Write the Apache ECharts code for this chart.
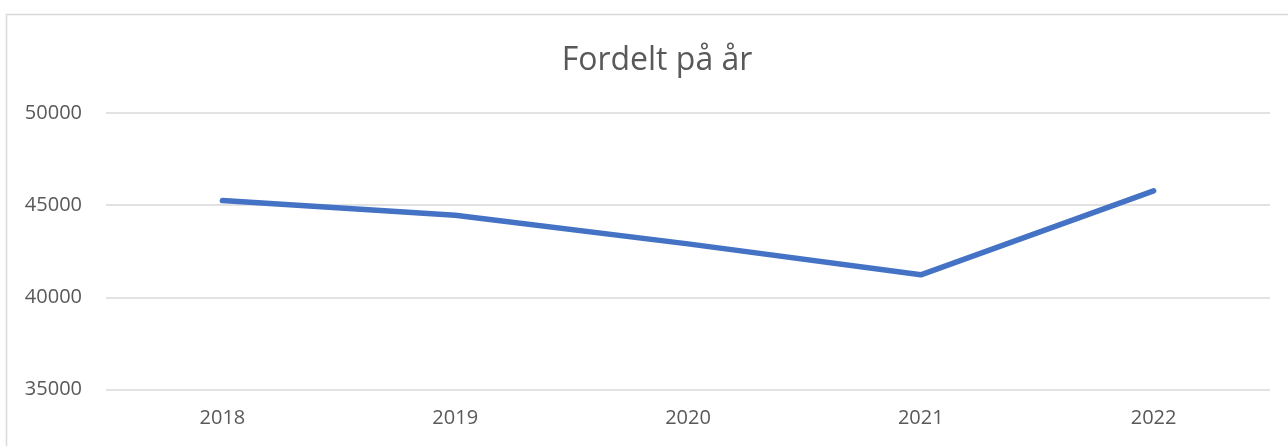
<!DOCTYPE html>
<html>
<head>
<meta charset="utf-8">
<script src="https://cdn.jsdelivr.net/npm/echarts@6/dist/echarts.min.js"></script>
<style>
html,body{margin:0;padding:0;background:#fff;}
#c{width:1288px;height:446px;}
</style>
</head>
<body>
<div id="c"></div>
<script>
const titleText = 'Fordelt på år';
const categories = ['2018', '2019', '2020', '2021', '2022'];
const values = [45250, 44450, 42900, 41220, 45780];
const yTicks = [35000, 40000, 45000, 50000];

const chart = echarts.init(document.getElementById('c'), null, {renderer: 'canvas'});
const textColor = '#595959';
const fontFam = '"Open Sans", "Noto Sans", sans-serif';
chart.setOption({
  backgroundColor: '#ffffff',
  animation: false,
  title: {
    text: titleText,
    left: 652,
    textAlign: 'center',
    top: 40,
    textStyle: {fontFamily: fontFam, fontSize: 32, fontWeight: 'normal', color: textColor}
  },
  graphic: [{
    type: 'polyline',
    shape: {points: [[6.5, 460], [6.5, 14.5], [1300, 14.5]]},
    style: {fill: 'none', stroke: '#d9d9d9', lineWidth: 1.5},
    silent: true
  }],
  grid: {left: 106, right: 18, top: 113, bottom: 56.5, containLabel: false},
  xAxis: {
    type: 'category',
    data: categories,
    boundaryGap: true,
    axisLine: {show: false},
    axisTick: {show: false},
    axisLabel: {color: textColor, fontFamily: fontFam, fontSize: 20, margin: 19}
  },
  yAxis: {
    type: 'value',
    min: yTicks[0],
    max: yTicks[yTicks.length - 1],
    interval: yTicks[1] - yTicks[0],
    axisLine: {show: false},
    axisTick: {show: false},
    axisLabel: {color: textColor, fontFamily: fontFam, fontSize: 20, margin: 24, formatter: function (v) { return String(v); }},
    splitLine: {lineStyle: {color: '#d9d9d9', width: 1.5}}
  },
  series: [{
    type: 'line',
    data: values,
    symbol: 'none',
    lineStyle: {color: '#4472C4', width: 5.5, cap: 'round', join: 'round'},
    itemStyle: {color: '#4472C4'}
  }]
});
</script>
</body>
</html>
